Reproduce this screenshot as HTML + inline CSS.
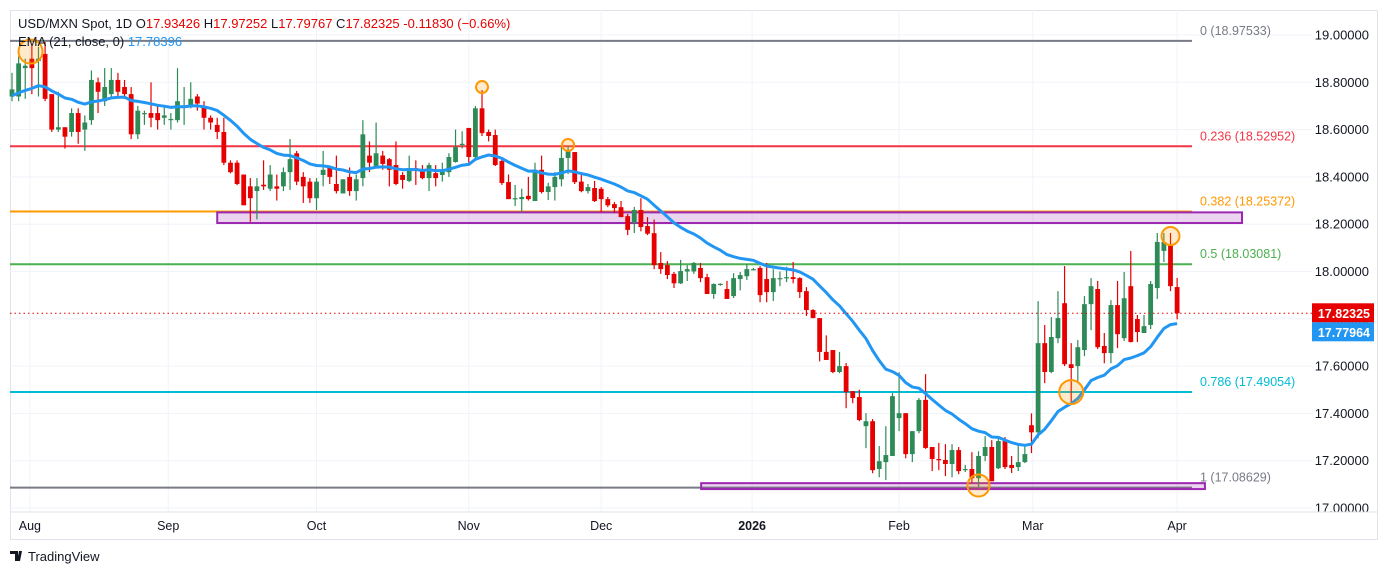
<!DOCTYPE html>
<html><head><meta charset="utf-8"><style>
body{margin:0;background:#fff;}
svg{display:block;font-family:"Liberation Sans",sans-serif;}
</style></head><body>
<svg id="c" width="1388" height="575" viewBox="0 0 1388 575">
<rect x="10.5" y="10.5" width="1367" height="529" fill="#fff" stroke="#e0e3eb"/>
<g id="grid"></g>
<g id="fibs"></g>
<g id="boxes"></g>
<g id="candles"></g>
<g id="ema"></g>
<g id="marks"></g>
<g id="axes"></g>
<line x1="10" y1="512" x2="1378" y2="512" stroke="#e0e3eb"/>
<text x="18" y="28" font-size="13" fill="#131722">USD/MXN Spot, 1D  <tspan>O</tspan><tspan fill="#e60000">17.93426</tspan>  H<tspan fill="#e60000">17.97252</tspan>  L<tspan fill="#e60000">17.79767</tspan>  C<tspan fill="#e60000">17.82325</tspan>  <tspan fill="#e60000">-0.11830 (−0.66%)</tspan></text>
<text x="18" y="46" font-size="13" fill="#131722">EMA (21, close, 0)  <tspan fill="#2196f3">17.78396</tspan></text>
<g>
<path d="M10 551h8v10h-3v-7h-5z M19 551h3l-2 10h-3z" fill="#131722"/>
<text x="28" y="561" font-size="13" fill="#131722">TradingView</text>
</g>
</svg>
<script>
const opens=[18.74,18.74,18.86,18.90,18.89,18.92,18.75,18.60,18.61,18.59,18.67,18.60,18.64,18.80,18.72,18.75,18.81,18.78,18.75,18.58,18.67,18.67,18.67,18.65,18.645,18.64,18.70,18.70,18.74,18.70,18.65,18.62,18.59,18.46,18.46,18.41,18.36,18.34,18.367,18.35,18.36,18.36,18.42,18.50,18.40,18.38,18.31,18.408,18.44,18.37,18.33,18.40,18.34,18.395,18.49,18.445,18.49,18.475,18.45,18.408,18.383,18.437,18.43,18.395,18.416,18.408,18.42,18.463,18.54,18.607,18.484,18.69,18.59,18.577,18.467,18.378,18.31,18.306,18.32,18.298,18.43,18.336,18.357,18.39,18.48,18.505,18.38,18.34,18.353,18.35,18.306,18.285,18.272,18.234,18.205,18.26,18.192,18.162,18.036,18.027,17.99,17.95,18.0,18.0,18.015,17.976,17.905,17.947,17.926,17.896,17.968,17.98,18.01,18.015,17.968,17.913,17.97,17.974,17.976,17.972,17.917,17.837,17.803,17.66,17.668,17.575,17.6,17.494,17.469,17.346,17.367,17.165,17.194,17.22,17.38,17.401,17.228,17.325,17.457,17.258,17.207,17.203,17.186,17.245,17.165,17.165,17.126,17.22,17.258,17.168,17.283,17.182,17.173,17.194,17.35,17.32,17.697,17.575,17.718,17.866,17.608,17.6,17.668,17.862,17.926,17.685,17.655,17.858,17.718,17.938,17.799,17.74,17.774,17.93,18.087,18.116,17.93426];
const highs=[18.84,18.91,18.90,18.96,18.95,18.97,18.75,18.76,18.61,18.69,18.69,18.66,18.85,18.82,18.86,18.86,18.84,18.81,18.78,18.70,18.68,18.80,18.70,18.70,18.67,18.86,18.78,18.80,18.75,18.72,18.66,18.65,18.65,18.47,18.47,18.41,18.395,18.395,18.47,18.45,18.41,18.44,18.56,18.51,18.42,18.395,18.395,18.51,18.44,18.49,18.39,18.44,18.41,18.64,18.55,18.63,18.51,18.48,18.55,18.42,18.49,18.47,18.45,18.46,18.45,18.46,18.50,18.60,18.593,18.607,18.70,18.767,18.60,18.60,18.475,18.41,18.366,18.35,18.40,18.46,18.49,18.375,18.42,18.526,18.53,18.505,18.41,18.37,18.383,18.357,18.315,18.294,18.298,18.243,18.273,18.31,18.23,18.22,18.082,18.044,17.998,18.049,18.027,18.04,18.036,17.99,17.95,17.95,17.96,17.993,17.998,18.032,18.015,18.023,18.036,18.01,18.0,18.02,18.04,17.976,17.934,17.841,17.803,17.73,17.668,17.66,17.613,17.494,17.5,17.401,17.376,17.262,17.346,17.486,17.574,17.401,17.325,17.465,17.566,17.258,17.275,17.27,17.27,17.258,17.182,17.236,17.24,17.304,17.287,17.295,17.3,17.22,17.27,17.262,17.4,17.875,17.774,17.807,17.917,18.023,17.697,17.71,17.896,17.972,17.96,17.74,17.879,17.96,17.998,18.087,17.816,17.816,17.96,18.163,18.163,18.163,17.97252];
const lows=[18.72,18.72,18.73,18.75,18.74,18.72,18.59,18.59,18.52,18.57,18.54,18.51,18.62,18.67,18.70,18.73,18.74,18.73,18.56,18.56,18.62,18.61,18.60,18.62,18.60,18.63,18.62,18.69,18.68,18.60,18.60,18.56,18.45,18.415,18.365,18.28,18.21,18.22,18.345,18.34,18.30,18.34,18.345,18.365,18.29,18.29,18.26,18.36,18.37,18.33,18.33,18.32,18.30,18.36,18.42,18.44,18.43,18.36,18.365,18.35,18.378,18.366,18.39,18.34,18.36,18.38,18.40,18.46,18.52,18.46,18.48,18.573,18.55,18.446,18.366,18.306,18.277,18.25,18.30,18.298,18.33,18.302,18.30,18.36,18.412,18.37,18.335,18.33,18.294,18.25,18.272,18.247,18.23,18.154,18.163,18.17,18.154,18.01,17.99,17.968,17.93,17.947,17.96,17.99,17.955,17.905,17.884,17.94,17.884,17.888,17.92,17.964,18.005,17.87,17.87,17.875,17.938,17.955,17.95,17.888,17.812,17.803,17.62,17.626,17.57,17.57,17.422,17.443,17.367,17.253,17.147,17.13,17.118,17.22,17.325,17.21,17.194,17.316,17.25,17.156,17.16,17.135,17.13,17.143,17.152,17.105,17.088,17.198,17.113,17.165,17.165,17.148,17.156,17.19,17.232,17.295,17.528,17.57,17.697,17.6,17.447,17.528,17.642,17.752,17.672,17.612,17.612,17.676,17.706,17.7,17.702,17.74,17.757,17.884,18.04,17.917,17.79767];
const closes=[18.77,18.88,18.87,18.86,18.90,18.73,18.60,18.61,18.57,18.67,18.59,18.63,18.81,18.76,18.78,18.81,18.76,18.75,18.58,18.68,18.67,18.65,18.64,18.66,18.645,18.72,18.70,18.73,18.71,18.65,18.63,18.59,18.46,18.42,18.37,18.28,18.31,18.36,18.36,18.41,18.35,18.42,18.475,18.38,18.36,18.31,18.38,18.43,18.40,18.34,18.39,18.34,18.39,18.58,18.46,18.50,18.455,18.43,18.37,18.387,18.437,18.429,18.395,18.45,18.395,18.43,18.484,18.526,18.54,18.484,18.69,18.585,18.573,18.45,18.374,18.306,18.31,18.315,18.306,18.43,18.336,18.36,18.40,18.48,18.51,18.378,18.34,18.357,18.298,18.306,18.28,18.268,18.23,18.176,18.26,18.188,18.16,18.027,18.01,17.985,17.95,18.002,18.01,18.036,17.972,17.905,17.947,17.948,17.884,17.972,17.985,18.01,18.01,17.9,17.913,17.972,17.972,17.976,17.968,17.913,17.837,17.803,17.66,17.626,17.575,17.6,17.49,17.465,17.372,17.367,17.16,17.198,17.224,17.473,17.401,17.228,17.325,17.457,17.254,17.207,17.203,17.186,17.245,17.156,17.165,17.126,17.22,17.258,17.113,17.283,17.173,17.169,17.194,17.228,17.32,17.697,17.575,17.723,17.803,17.608,17.592,17.68,17.862,17.938,17.68,17.655,17.858,17.735,17.887,17.702,17.744,17.769,17.947,18.125,18.125,17.938,17.82325];
const emaSeed=18.74;
const emaPeriod=21;
const priceTicks=[19.0,18.8,18.6,18.4,18.2,18.0,17.8,17.6,17.4,17.2,17.0];
const monthLabels=["Aug","Sep","Oct","Nov","Dec","2026","Feb","Mar","Apr"];
const monthIdx=[2.7,23.6,46,69,89,111.8,134,154.2,176];
const fibHigh=18.97533, fibLow=17.08629;
const fibRatios=[0,0.236,0.382,0.5,0.786,1];
const fibColors=["#787b86","#f23645","#ff9800","#4caf50","#00bcd4","#787b86"];
const boxTop=[18.25,17.105];
const boxBot=[18.205,17.08];
const boxStart=[31,104.1];
const boxEnd=[185.8,180.2];
const circleIdx=[2.8,71,84,175,160,146];
const circlePrice=[18.93,18.78,18.535,18.15,17.49,17.095];
const circleR=[12,6,6,9,12,11];

const NS="http://www.w3.org/2000/svg";
const Y=p=>35+(19-p)*236.5;
const X=i=>12+i*6.62;
function mk(tag,attrs,parent){const e=document.createElementNS(NS,tag);for(const k in attrs)e.setAttribute(k,attrs[k]);document.getElementById(parent).appendChild(e);return e;}

priceTicks.forEach((p,i)=>{
  const l=mk('line',{x1:10,x2:1312,y1:Y(p),y2:Y(p),stroke:'#f0f3fa'},'grid');
  
  
  const t=mk('text',{x:1369,y:Y(p)+4.5,'text-anchor':'end','font-size':13,fill:'#131722'},'axes');
  t.textContent=p.toFixed(5);
  
  
});
monthLabels.forEach((m,i)=>{
  const x=X(monthIdx[i]);
  const l=mk('line',{x1:x,x2:x,y1:10,y2:512,stroke:'#f0f3fa'},'grid');
  
  
  const t=mk('text',{x:x,y:530,'text-anchor':'middle','font-size':12.5,fill:'#131722','font-weight':m==='2026'?'bold':'normal'},'axes');
  t.textContent=m;
  
  
});
fibRatios.forEach((r,i)=>{
  const p=fibHigh-(fibHigh-fibLow)*r;
  const l=mk('line',{x1:10,x2:1192,y1:Y(p),y2:Y(p),stroke:fibColors[i],'stroke-width':2},'fibs');
  
  
  const t=mk('text',{x:1200,y:Y(p)-6,'font-size':12.5,fill:fibColors[i]},'fibs');
  t.textContent=r+' ('+p.toFixed(5)+')';
  
  
});
boxTop.forEach((b,i)=>{
  const r=mk('rect',{x:X(boxStart[i]),y:Y(b),width:X(boxEnd[i])-X(boxStart[i]),height:Y(boxBot[i])-Y(b),fill:'rgba(156,39,176,0.2)',stroke:'#9c27b0','stroke-width':2},'boxes');
  
  
});
closes.forEach((c,i)=>{
  const o=opens[i],up=c>=o,col=up?'#2e8b57':'#e60000',x=X(i);
  const w=mk('line',{x1:x,x2:x,y1:Y(highs[i]),y2:Y(lows[i]),stroke:col,'stroke-width':1.2},'candles');
  
  
  const t=Y(Math.max(o,c)),h=Math.max(1.2,Math.abs(Y(o)-Y(c)));
  const b=mk('rect',{x:x-2.4,y:t,width:4.8,height:h,fill:col},'candles');
  
  
});
let e=emaSeed,a=2/(emaPeriod+1),pts=[];
closes.forEach((c,i)=>{e=c*a+e*(1-a);pts.push(X(i).toFixed(1)+','+Y(e).toFixed(1));});
const em=mk('polyline',{points:pts.join(' '),fill:'none',stroke:'#2196f3','stroke-width':3,'stroke-linejoin':'round'},'ema');


circleIdx.forEach((ci,i)=>{
  const c=mk('circle',{cx:X(ci),cy:Y(circlePrice[i]),r:circleR[i],fill:'rgba(255,152,0,0.2)',stroke:'#ff9800','stroke-width':2},'marks');
  
  
});
const last=closes[closes.length-1];
const dl=mk('line',{x1:10,x2:1312,y1:Y(last),y2:Y(last),stroke:'#e60000','stroke-dasharray':'1.5,3'},'marks');


const tags=[[last,'#e60000'],[e,'#2196f3']];
tags.forEach((t,i)=>{
  const yy=i===0?Y(t[0]):Math.max(Y(t[0]),Y(last)+19);
  const r=mk('rect',{x:1312,y:yy-10,width:62,height:19,fill:t[1]},'axes');
  
  
  const tx=mk('text',{x:1370,y:yy+4.5,'text-anchor':'end','font-size':12.5,fill:'#fff','font-weight':'bold'},'axes');
  tx.textContent=t[0].toFixed(5);
  
  
});
</script>
</body></html>
